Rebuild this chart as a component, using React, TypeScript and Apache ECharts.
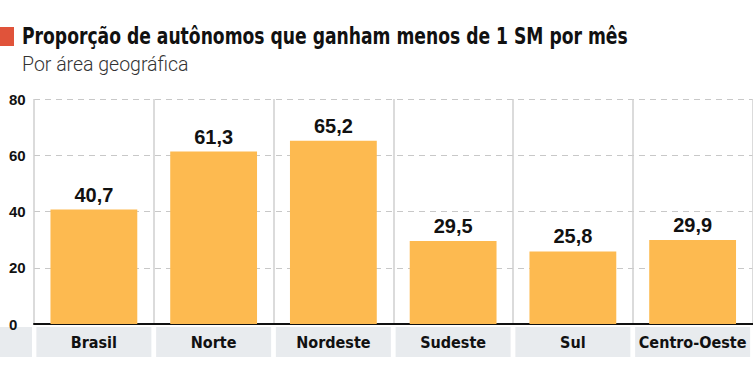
import React, { useEffect, useRef } from "react";
import * as echarts from "echarts";

const categories = ["Brasil", "Norte", "Nordeste", "Sudeste", "Sul", "Centro-Oeste"];
const values = [40.7, 61.3, 65.2, 29.5, 25.8, 29.9];
const titleText = "Proporção de autônomos que ganham menos de 1 SM por mês";
const subtitleText = "Por área geográfica";

const NARROW = "'Liberation Sans Narrow', 'DejaVu Sans Condensed', 'Roboto Condensed', sans-serif";

export default function App() {
  const ref = useRef<HTMLDivElement>(null);
  useEffect(() => {
    const chart = echarts.init(ref.current!, null, { renderer: "svg" });
    chart.setOption({
      animation: false,
      backgroundColor: "#ffffff",
      graphic: [
        { type: "rect", left: 0, top: 27, shape: { width: 14, height: 19 }, style: { fill: "#E0533A" } },
        {
          type: "text", x: 22, y: 24, scaleX: 0.83,
          style: { text: titleText, font: `bold 23px ${NARROW}`, fill: "#111" },
        },
        {
          type: "text", left: 22, top: 54,
          style: { text: subtitleText, font: "300 19.5px Roboto, 'Open Sans', sans-serif", fill: "#333" },
        },
        { type: "rect", left: 0, top: 327, shape: { width: 32, height: 30 }, style: { fill: "#E8EBEE" } },
      ],
      grid: { left: 34, right: -1, top: 99, bottom: 41, containLabel: false },
      xAxis: {
        type: "category",
        data: categories,
        boundaryGap: true,
        axisLine: { show: true, lineStyle: { color: "#111", width: 2 } },
        axisTick: { show: false },
        splitLine: { show: true, lineStyle: { color: "#cfcfcf", width: 1.5 } },
        axisLabel: {
          interval: 0,
          margin: 3,
          width: 115,
          height: 30,
          lineHeight: 30,
          align: "center",
          backgroundColor: "#E8EBEE",
          color: "#111",
          fontWeight: "bold",
          fontSize: 16,
          fontFamily: NARROW,
        },
      },
      yAxis: {
        type: "value",
        min: 0,
        max: 80,
        interval: 20,
        axisLine: { show: false },
        axisTick: { show: false },
        splitLine: { show: true, lineStyle: { color: "#c8c8c8", type: [6, 5], width: 1 } },
        axisLabel: {
          align: "left",
          margin: 25,
          color: "#111",
          fontWeight: "bold",
          fontSize: 15,
          fontFamily: "'Liberation Sans', Arial, sans-serif",
        },
      },
      series: [
        {
          type: "bar",
          data: values,
          barWidth: "72.5%",
          itemStyle: { color: "#FDBA50" },
          label: {
            show: true,
            position: "top",
            distance: 5,
            color: "#111",
            fontWeight: "bold",
            fontSize: 20,
            fontFamily: "'Liberation Sans', Arial, sans-serif",
            formatter: (p: any) => String(p.value).replace(".", ","),
          },
        },
      ],
    });
    return () => chart.dispose();
  }, []);
  return <div ref={ref} style={{ width: 753, height: 365, position: "absolute", left: 0, top: 0 }} />;
}
